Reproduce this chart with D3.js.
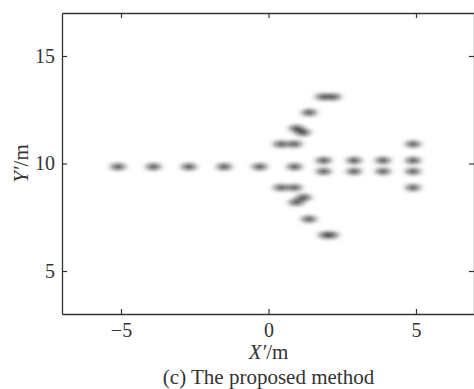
<!DOCTYPE html>
<html><head><meta charset="utf-8">
<script src="https://cdn.jsdelivr.net/npm/d3@7"></script>
<style>body{margin:0;background:#fff}svg{display:block}</style>
</head><body>
<script>
// Target image points (X'/m, Y'/m)
const targetX = [-5.1,-3.9,-2.7,-1.5,-0.3,0.88, 0.42,0.88, 0.95,1.17, 1.38, 1.85,2.2, 0.42,0.88, 1.19,0.94, 1.37, 1.95,2.12,
  1.87,2.9,3.88,4.9, 1.87,2.9,3.88,4.9, 4.9,4.9];
const targetY = [9.85,9.85,9.85,9.85,9.85,9.85, 10.9,10.9, 11.63,11.44, 12.37, 13.1,13.1, 8.88,8.88, 8.42,8.19, 7.41, 6.67,6.67,
  10.14,10.14,10.14,10.14, 9.63,9.63,9.63,9.63, 10.9,8.88];
const xTicks = [-5,0,5];
const yTicks = [5,10,15];
const xDomain = [-7,7];
const yDomain = [3,17];

const W=474,H=389;
const svg=d3.select("body").append("svg").attr("width",W).attr("height",H);
const x=d3.scaleLinear().domain(xDomain).range([62,475]);
const y=d3.scaleLinear().domain(yDomain).range([314,13]);

const defs=svg.append("defs");
defs.append("filter").attr("id","blur").attr("x","-100%").attr("y","-200%").attr("width","300%").attr("height","500%")
  .append("feGaussianBlur").attr("stdDeviation","3.6 2");

svg.append("g").attr("filter","url(#blur)")
  .selectAll("ellipse").data(targetX.map((d,i)=>[d,targetY[i]])).join("ellipse")
  .attr("cx",d=>x(d[0])).attr("cy",d=>y(d[1]))
  .attr("rx",6.5).attr("ry",2.7).attr("fill","#111").attr("fill-opacity",0.9);

const font="'Liberation Serif', 'Times New Roman', serif";
const col="#333";
const fmt=d=>d<0?"\u2212"+(-d):String(d);

function style(g){g.select(".domain").attr("stroke",col).attr("stroke-width",1.3);
  g.selectAll(".tick line").attr("stroke",col).attr("stroke-width",1.2);
  g.selectAll(".tick text").attr("fill",col).style("font-family",font).style("font-size","20px");}

svg.append("g").attr("transform","translate(0,314)")
  .call(d3.axisBottom(x).tickValues(xTicks).tickSize(-5).tickSizeOuter(0).tickPadding(8.5).tickFormat(fmt)).call(style);
svg.append("g").attr("transform","translate(0,13)")
  .call(d3.axisTop(x).tickValues(xTicks).tickSize(-5).tickSizeOuter(0).tickFormat("")).call(style);
svg.append("g").attr("transform","translate(62,0)")
  .call(d3.axisLeft(y).tickValues(yTicks).tickSize(-5).tickSizeOuter(0).tickPadding(7).tickFormat(fmt)).call(style);
svg.append("g").attr("transform","translate(474,0)")
  .call(d3.axisRight(y).tickValues(yTicks).tickSize(-5).tickSizeOuter(0).tickFormat("")).call(style);

const xl=svg.append("text").attr("x",x(0)).attr("y",359).attr("text-anchor","middle")
  .attr("fill",col).style("font-family",font).style("font-size","21px");
xl.append("tspan").attr("font-style","italic").text("X\u2032");
xl.append("tspan").text("/m");

const yl=svg.append("text").attr("transform",`translate(28,${y(10)}) rotate(-90)`).attr("text-anchor","middle")
  .attr("fill",col).style("font-family",font).style("font-size","21px");
yl.append("tspan").attr("font-style","italic").text("Y\u2032");
yl.append("tspan").text("/m");

svg.append("text").attr("x",x(0)).attr("y",384).attr("text-anchor","middle")
  .attr("fill",col).style("font-family",font).style("font-size","21px").text("(c) The proposed method");
</script>
</body></html>
